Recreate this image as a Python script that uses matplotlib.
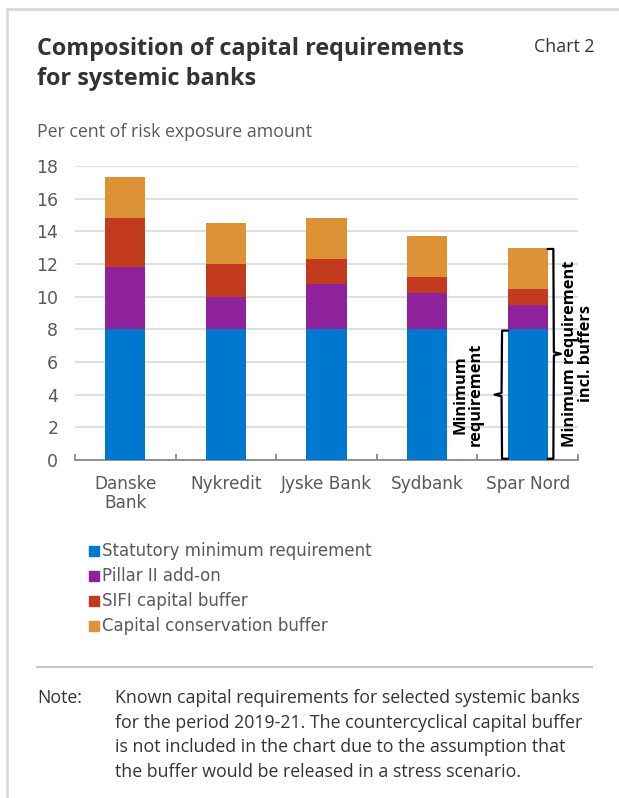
import matplotlib
matplotlib.use("Agg")
import matplotlib.pyplot as plt
from matplotlib.lines import Line2D

plt.rcParams["font.family"] = ["Open Sans", "DejaVu Sans"]

banks = ["Danske\nBank", "Nykredit", "Jyske Bank", "Sydbank", "Spar Nord"]
statutory = [8.0, 8.0, 8.0, 8.0, 8.0]
pillar2 = [3.8, 2.0, 2.8, 2.2, 1.5]
sifi = [3.0, 2.0, 1.5, 1.0, 1.0]
conservation = [2.5, 2.5, 2.5, 2.5, 2.5]
series_names = ["Statutory minimum requirement", "Pillar II add-on",
                "SIFI capital buffer", "Capital conservation buffer"]
yticks = [0, 2, 4, 6, 8, 10, 12, 14, 16, 18]
note_lines = ["Known capital requirements for selected systemic banks",
              "for the period 2019-21. The countercyclical capital buffer",
              "is not included in the chart due to the assumption that",
              "the buffer would be released in a stress scenario."]

COLORS = ["#0078d0", "#8e229a", "#c33b1f", "#de9236"]
C_TEXT = "#333333"
C_GREY = "#595959"
C_GRID = "#d9d9d9"
AXFONT = ["DejaVu Sans"]

W, H = 619, 798
fig = plt.figure(figsize=(W / 100, H / 100), dpi=100)
fig.patch.set_facecolor("white")


def px(x, y):
    return x / W, 1 - y / H


# frame around the chart box
fig.add_artist(Line2D([7 / W, 7 / W], [0, 1 - 9 / H], color=C_GRID, lw=2,
                      transform=fig.transFigure))
fig.add_artist(Line2D([7 / W, 1], [1 - 9 / H, 1 - 9 / H], color=C_GRID, lw=2,
                      transform=fig.transFigure))

fig.text(*px(37, 49), "Composition of capital requirements", fontsize=16.8,
         fontweight="bold", color=C_TEXT, va="center")
fig.text(*px(37, 79), "for systemic banks", fontsize=16.8,
         fontweight="bold", color=C_TEXT, va="center")
fig.text(*px(594, 47), "Chart 2", fontsize=12.8, color=C_TEXT, ha="right",
         va="center")
fig.text(*px(37, 132), "Per cent of risk exposure amount", fontsize=12.8,
         color=C_GREY, va="center")

left, right, top, bottom = 75, 578, 166, 460
ax = fig.add_axes([left / W, 1 - bottom / H, (right - left) / W,
                   (bottom - top) / H])

x = list(range(len(banks)))
base = [0.0] * len(banks)
for vals, color, name in zip([statutory, pillar2, sifi, conservation],
                             COLORS, series_names):
    ax.bar(x, vals, bottom=base, width=0.4, color=color, label=name,
           zorder=3)
    base = [b + v for b, v in zip(base, vals)]

ax.set_xlim(-0.5, len(banks) - 0.5)
ax.set_ylim(0, 18)
ax.set_yticks(yticks)
ax.set_yticklabels([str(v) for v in yticks], family=AXFONT, fontsize=12.5,
                   color=C_GREY)
ax.grid(axis="y", color=C_GRID, linewidth=1.2)
ax.set_axisbelow(True)
for s in ["top", "right", "left"]:
    ax.spines[s].set_visible(False)
ax.spines["bottom"].set_color("#7f7f7f")
ax.spines["bottom"].set_linewidth(1.2)
ax.tick_params(axis="y", length=0, pad=12)
ax.set_xticks(x)
ax.set_xticklabels(banks, family=AXFONT, fontsize=12.2, color=C_GREY,
                   linespacing=1.05)
ax.set_xticks([i - 0.5 for i in range(len(banks) + 1)], minor=True)
ax.tick_params(axis="x", which="major", length=0, pad=11)
ax.tick_params(axis="x", which="minor", length=4, direction="in",
               color="#7f7f7f", width=1.2)

# braces beside the last bar
k = len(banks) - 1
tot_min = statutory[k]
tot_all = base[k]
lb = [(k - 0.20, 0.08), (k - 0.255, 0.08), (k - 0.26, tot_min / 2 - 0.1),
      (k - 0.33, tot_min / 2), (k - 0.26, tot_min / 2 + 0.1),
      (k - 0.255, tot_min - 0.08), (k - 0.20, tot_min - 0.08)]
ax.plot([p[0] for p in lb], [p[1] for p in lb], color="black", lw=1.6,
        zorder=4, clip_on=False)
rb = [(k + 0.20, 0.08), (k + 0.255, 0.08), (k + 0.26, tot_all / 2 - 0.1),
      (k + 0.33, tot_all / 2), (k + 0.26, tot_all / 2 + 0.1),
      (k + 0.255, tot_all - 0.08), (k + 0.20, tot_all - 0.08)]
ax.plot([p[0] for p in rb], [p[1] for p in rb], color="black", lw=1.6,
        zorder=4, clip_on=False)
ax.text(k - 0.59, tot_min / 2, "Minimum\nrequirement", rotation=90,
        ha="center", va="center", fontsize=11.8, fontweight="bold",
        color="black", linespacing=0.95)
ax.text(k + 0.50, tot_all / 2, "Minimum requirement\nincl. buffers",
        rotation=90, ha="center", va="center", fontsize=11.8,
        fontweight="bold", color="black", linespacing=0.95, clip_on=False)

# legend
for i, (name, color) in enumerate(zip(series_names, COLORS)):
    yy = 551 + 25 * i
    fig.patches.append(plt.Rectangle(px(89, yy + 5), 10 / W, 10 / H,
                                     color=color,
                                     transform=fig.transFigure))
    fig.text(*px(102, yy), name, family=AXFONT, fontsize=12,
             color=C_GREY, va="center")

fig.add_artist(Line2D([37 / W, 592 / W], [1 - 667 / H, 1 - 667 / H],
                      color="#c8c8c8", lw=1.5, transform=fig.transFigure))

fig.text(*px(37, 698), "Note:", fontsize=12.8, color=C_TEXT, va="center")
for i, line in enumerate(note_lines):
    fig.text(*px(115, 698 + 24.6 * i), line, fontsize=12.8, color=C_TEXT,
             va="center")

fig.savefig("out.png", dpi=100, facecolor="white")
